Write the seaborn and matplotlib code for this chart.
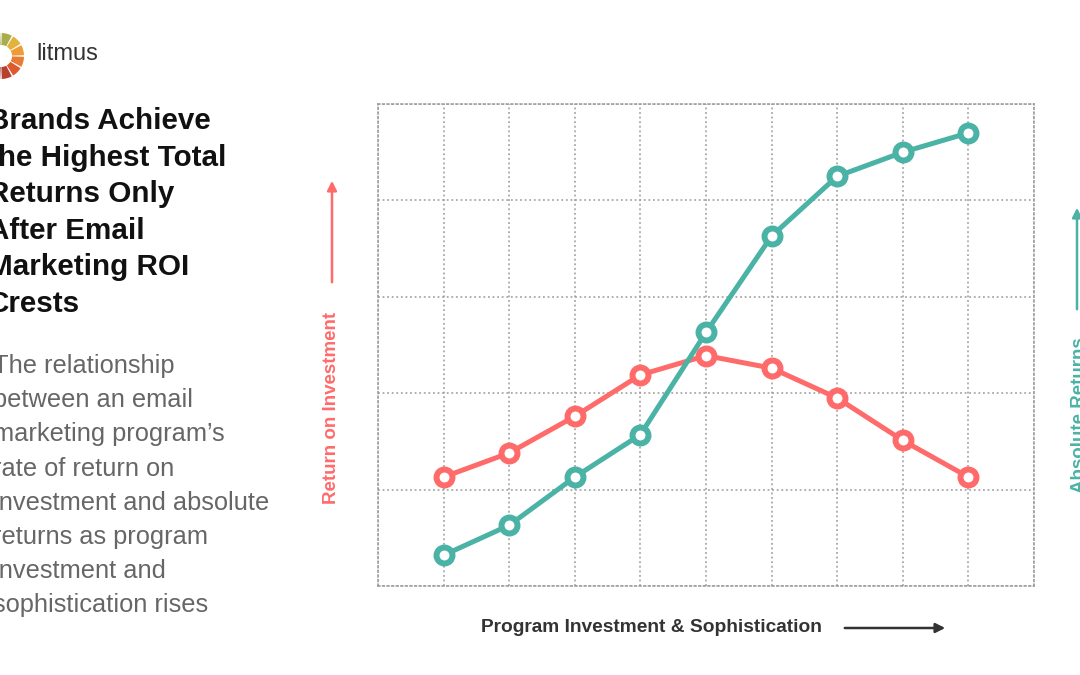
"""Litmus chart: ROI vs absolute returns as program investment rises"""

import matplotlib

matplotlib.use("Agg")
import matplotlib.pyplot as plt
from matplotlib.patches import Wedge
import pandas as pd
import seaborn as sns

# data (arbitrary units, grid = 0..5)
stages = [1, 2, 3, 4, 5, 6, 7, 8, 9]
roi = [1.13, 1.38, 1.76, 2.19, 2.39, 2.26, 1.95, 1.51, 1.13]
absolute_returns = [0.32, 0.63, 1.13, 1.57, 2.63, 3.63, 4.25, 4.50, 4.70]

title_lines = ["Brands Achieve", "the Highest Total", "Returns Only",
               "After Email", "Marketing ROI", "Crests"]
subtitle_lines = ["The relationship", "between an email",
                  "marketing program\u2019s", "rate of return on",
                  "investment and absolute", "returns as program",
                  "investment and", "sophistication rises"]

RED = "#FF6B6B"
TEAL = "#4AB3A6"
FONT = ["Liberation Sans", "DejaVu Sans"]

sns.set_theme(style="white")
plt.rcParams["font.family"] = FONT

df = pd.DataFrame({"stage": stages, "roi": roi, "abs": absolute_returns})

fig = plt.figure(figsize=(10.8, 6.75), dpi=100)
ax = fig.add_axes([378 / 1080, 1 - 586 / 675, 656 / 1080, 482 / 675])

line_kw = dict(
    marker="o",
    markersize=11.5,
    markeredgewidth=4.3,
    markerfacecolor="white",
    linewidth=3.6,
    clip_on=False,
    zorder=3,
)
sns.lineplot(data=df, x="stage", y="roi", color=RED, markeredgecolor=RED, ax=ax, **line_kw)
sns.lineplot(data=df, x="stage", y="abs", color=TEAL, markeredgecolor=TEAL, ax=ax, **line_kw)

ax.set_xlim(0, 10)
ax.set_ylim(0, 5)
ax.set_xticks(range(0, 11))
ax.set_yticks(range(0, 6))
ax.set_xticklabels([])
ax.set_yticklabels([])
ax.tick_params(length=0)
ax.set_xlabel("")
ax.set_ylabel("")
dots = (0, (1.2, 1.8))
ax.grid(True, color="#9a9a9a", linewidth=1.1, linestyle=dots)
for sp in ax.spines.values():
    sp.set_visible(True)
    sp.set_color("#9a9a9a")
    sp.set_linewidth(1.1)
    sp.set_linestyle(dots)

# overlay in pixel coordinates for text, arrows and logo
ov = fig.add_axes([0, 0, 1, 1], facecolor="none")
ov.set_xlim(0, 1080)
ov.set_ylim(675, 0)
ov.axis("off")

# logo ring, clockwise from the top
seg_colors = ["#A9AE4B", "#E2B23C", "#EE9C35", "#E97B37", "#DD5A31",
              "#B8402D", "#8E2F2A", "#3E4B57", "#3E5560", "#4F6E66",
              "#6C8F57", "#8FA550"]
n = len(seg_colors)
for i, c in enumerate(seg_colors):
    start = -90 + i * 360 / n
    ov.add_patch(Wedge((1, 56), 23, start + 2, start + 360 / n - 2,
                       width=12, facecolor=c, edgecolor="none"))
ov.text(36, 54, "litmus", fontsize=17, color="#333333", va="center", ha="left")

for i, line in enumerate(title_lines):
    ov.text(-12, 121 + i * 36.6, line, fontsize=21.3, fontweight="bold",
            color="#111111", va="center", ha="left")
for i, line in enumerate(subtitle_lines):
    ov.text(-7, 366 + i * 34.2, line, fontsize=18.3, color="#666666",
            va="center", ha="left")

# axis labels with arrows
ov.text(332, 408, "Return on Investment", rotation=90, fontsize=13.5,
        fontweight="bold", color=RED, ha="center", va="center")
ov.annotate("", xy=(332, 178), xytext=(332, 285),
            arrowprops=dict(arrowstyle="-|>", color=RED, lw=1.8,
                            mutation_scale=14))
ov.text(1080, 415, "Absolute Returns", rotation=90, fontsize=13.5,
        fontweight="bold", color=TEAL, ha="center", va="center")
ov.annotate("", xy=(1077, 205), xytext=(1077, 312),
            arrowprops=dict(arrowstyle="-|>", color=TEAL, lw=1.8,
                            mutation_scale=14))
ov.text(651, 628, "Program Investment & Sophistication", fontsize=13.8,
        fontweight="bold", color="#333333", ha="center", va="center")
ov.annotate("", xy=(948, 628), xytext=(842, 628),
            arrowprops=dict(arrowstyle="-|>", color="#333333", lw=1.8,
                            mutation_scale=14))

fig.savefig("out.png", dpi=100)
